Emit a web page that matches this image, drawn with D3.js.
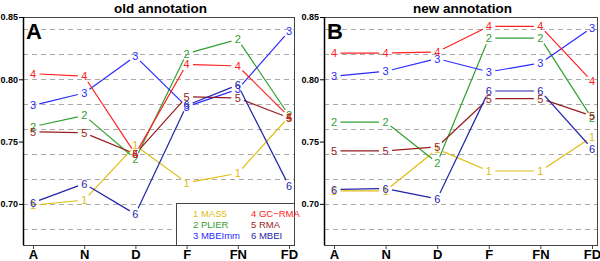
<!DOCTYPE html>
<html>
<head>
<meta charset="utf-8">
<script src="https://d3js.org/d3.v7.min.js"></script>
<style>
  body { margin: 0; background: #fff; }
  text { font-family: "Liberation Sans", Arial, sans-serif; }
</style>
</head>
<body>
<div id="wrapper"></div>
<script>
// data
const categories = ["A", "N", "D", "F", "FN", "FD"]
const methods = ["MAS5", "PLIER", "MBEImm", "GC\u2212RMA", "RMA", "MBEI"]
const colors = ["#e0bc10", "#33a033", "#2a2aff", "#ff2020", "#961c1c", "#2424a8"]
const yTicks = [0.70, 0.75, 0.80, 0.85]
const gridValues = [0.68, 0.70, 0.72, 0.74, 0.76, 0.78, 0.80, 0.82, 0.84]

// old annotation
const mas5Old   = [0.699, 0.703, 0.747, 0.717, 0.7245, 0.770]
const plierOld  = [0.762, 0.771, 0.736, 0.8206, 0.832, 0.771]
const mbeimmOld = [0.779, 0.789, 0.8185, 0.778, 0.792, 0.8385]
const gcrmaOld  = [0.8045, 0.8024, 0.740, 0.812, 0.8107, 0.770]
const rmaOld    = [0.758, 0.757, 0.740, 0.786, 0.785, 0.769]
const mbeiOld   = [0.701, 0.7163, 0.6917, 0.779, 0.7955, 0.7144]

// new annotation
const mas5New   = [0.7104, 0.7104, 0.744, 0.7264, 0.7264, 0.7537]
const plierNew  = [0.7657, 0.7657, 0.733, 0.833, 0.833, 0.7687]
const mbeimmNew = [0.8024, 0.8064, 0.8166, 0.806, 0.813, 0.8415]
const gcrmaNew  = [0.821, 0.821, 0.822, 0.8425, 0.8425, 0.7984]
const rmaNew    = [0.7425, 0.7425, 0.7457, 0.7845, 0.7845, 0.7706]
const mbeiNew   = [0.7115, 0.7123, 0.704, 0.7906, 0.7906, 0.7444]

const oldSeries = [mas5Old, plierOld, mbeimmOld, gcrmaOld, rmaOld, mbeiOld]
const newSeries = [mas5New, plierNew, mbeimmNew, gcrmaNew, rmaNew, mbeiNew]

const svg = d3.select("#wrapper")
    .append("svg")
    .attr("width", 600)
    .attr("height", 261)

function drawPanel(opts) {
    const { left, right, top, bottom, series, title, letter, legend } = opts

    const x = d3.scalePoint()
        .domain(categories)
        .range([left + 10, right - 5])

    const y = d3.scaleLinear()
        .domain([0.667, 0.85])
        .range([bottom, top])

    const g = svg.append("g")

    // dashed grid
    g.selectAll(".grid")
        .data(gridValues)
        .enter()
        .append("line")
        .attr("x1", left)
        .attr("x2", right)
        .attr("y1", d => Math.round(y(d)) + 0.5)
        .attr("y2", d => Math.round(y(d)) + 0.5)
        .attr("stroke", "#aaa")
        .attr("stroke-dasharray", "5,4")

    // lines between labels, with a gap round each digit
    const gap = 6.5
    series.forEach((vals, si) => {
        const pts = vals.map((v, i) => [x(categories[i]), y(v)])
        for (let i = 0; i < pts.length - 1; i++) {
            const [x0, y0] = pts[i]
            const [x1, y1] = pts[i + 1]
            const len = Math.hypot(x1 - x0, y1 - y0)
            if (len < 2 * gap) continue
            const ux = (x1 - x0) / len, uy = (y1 - y0) / len
            g.append("line")
                .attr("x1", x0 + ux * gap)
                .attr("y1", y0 + uy * gap)
                .attr("x2", x1 - ux * gap)
                .attr("y2", y1 - uy * gap)
                .attr("stroke", colors[si])
                .attr("stroke-width", 1.2)
        }
    })

    // digit labels
    series.forEach((vals, si) => {
        g.selectAll(null)
            .data(vals)
            .enter()
            .append("text")
            .attr("x", (d, i) => x(categories[i]))
            .attr("y", d => y(d))
            .attr("dy", "0.36em")
            .attr("text-anchor", "middle")
            .attr("font-size", "11px")
            .attr("fill", colors[si])
            .text(si + 1)
    })

    // frame
    g.append("rect")
        .attr("x", left + 0.5)
        .attr("y", top + 0.5)
        .attr("width", right - left)
        .attr("height", bottom - top)
        .attr("fill", "none")
        .attr("stroke", "#444")
        .attr("stroke-width", 1)

    // y axis
    const yAxis = g.append("g")
        .attr("transform", `translate(${left},0)`)
        .call(d3.axisLeft(y).tickValues(yTicks).tickFormat(d3.format(".2f")).tickSize(4).tickPadding(1))
    yAxis.select(".domain").attr("stroke", "#000").attr("stroke-width", 1.5)
        .attr("d", `M0.5,${top}V${bottom}`)
    yAxis.selectAll("text")
        .attr("font-size", "9px")
        .attr("font-weight", "bold")
        .attr("font-family", "Liberation Sans, Arial, sans-serif")

    // x axis
    const xAxis = g.append("g")
        .attr("transform", `translate(0,${bottom})`)
        .call(d3.axisBottom(x).tickSize(4).tickPadding(1))
    xAxis.select(".domain").remove()
    xAxis.selectAll("line").attr("stroke", "#444")
    xAxis.selectAll("text")
        .attr("font-size", "13px")
        .attr("font-weight", "bold")
        .attr("font-family", "Liberation Sans, Arial, sans-serif")

    // title and letter
    g.append("text")
        .attr("x", (left + right) / 2 + 2)
        .attr("y", 13)
        .attr("text-anchor", "middle")
        .attr("font-size", "13.5px")
        .attr("font-weight", "bold")
        .text(title)

    g.append("text")
        .attr("x", left + 3)
        .attr("y", top + 22)
        .attr("font-size", "22px")
        .attr("font-weight", "bold")
        .text(letter)

    if (legend) {
        const lx = right - 118, ly = bottom - 42
        g.append("rect")
            .attr("x", lx + 0.5)
            .attr("y", ly + 0.5)
            .attr("width", right - lx)
            .attr("height", bottom - ly)
            .attr("fill", "#fff")
            .attr("stroke", "#444")
        g.selectAll(".leg")
            .data(methods)
            .enter()
            .append("text")
            .attr("x", (d, i) => lx + (i < 3 ? 17 : 75))
            .attr("y", (d, i) => ly + 14 + (i % 3) * 11)
            .attr("font-size", "9.5px")
            .attr("fill", (d, i) => colors[i])
            .text((d, i) => `${i + 1} ${d}`)
    }
}

drawPanel({ left: 23, right: 294, top: 17, bottom: 245, series: oldSeries,
    title: "old annotation", letter: "A", legend: true })
drawPanel({ left: 324, right: 597, top: 17, bottom: 245, series: newSeries,
    title: "new annotation", letter: "B", legend: false })
</script>
</body>
</html>
